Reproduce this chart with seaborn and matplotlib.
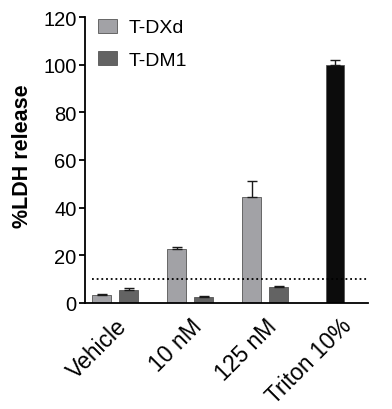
import numpy as np
import pandas as pd
import matplotlib
matplotlib.use('Agg')
import matplotlib.pyplot as plt
import seaborn as sns

# Data (mean and upper SEM)
groups = ['Vehicle', '10 nM', '125 nM', 'Triton 10%']
tdxd_values = [3.1, 22.7, 44.4]
tdxd_err = [0.4, 0.7, 6.6]
tdm1_values = [5.2, 2.4, 6.6]
tdm1_err = [1.0, 0.3, 0.4]
triton_value = [99.7]
triton_err = [2.1]
threshold = 10

sns.set_theme(style='ticks')
plt.rcParams['font.family'] = ['Liberation Sans', 'DejaVu Sans']
plt.rcParams['text.color'] = 'black'
plt.rcParams['axes.labelcolor'] = 'black'
plt.rcParams['xtick.color'] = 'black'
plt.rcParams['ytick.color'] = 'black'

# Build a long table with numeric bar positions
offset = 0.18
rows = []
for i in range(3):
    rows.append(('T-DXd', i - offset, tdxd_values[i], tdxd_err[i]))
    rows.append(('T-DM1', i + offset, tdm1_values[i], tdm1_err[i]))
rows.append(('Triton', 3 - 0.07, triton_value[0], triton_err[0]))
df = pd.DataFrame(rows, columns=['series', 'pos', 'value', 'err'])

palette = {'T-DXd': '#a2a2a6', 'T-DM1': '#636363', 'Triton': '#0c0c0c'}

fig = plt.figure(figsize=(3.92, 4.10), dpi=100)
ax = fig.add_axes([0.217, 0.259, 0.722, 0.697])

sns.barplot(data=df, x='pos', y='value', hue='series', palette=palette,
            native_scale=True, dodge=False, width=0.686, errorbar=None,
            edgecolor='#555555', linewidth=0.6, saturation=1, ax=ax)

ax.errorbar(df['pos'], df['value'], yerr=[np.zeros(len(df)), df['err']],
            fmt='none', ecolor='#1a1a1a', elinewidth=1.0, capsize=3.5,
            capthick=1.0, zorder=5)

ax.hlines(threshold, -0.31, 3.36, colors='black', linestyles=(0, (1, 1.6)),
          linewidth=1.3, zorder=1)

ax.set_xlim(-0.4, 3.37)
ax.set_ylim(0, 120)
ax.set_yticks(range(0, 121, 20))
ax.set_xticks(range(len(groups)))
ax.set_xticklabels(groups, rotation=45, ha='right', rotation_mode='anchor')
ax.tick_params(axis='x', length=0, labelsize=16.5, pad=8)
ax.tick_params(axis='y', length=4, width=1.3, labelsize=14.5, pad=2)
ax.set_xlabel('')
ax.set_ylabel('%LDH release', fontsize=15.5, fontweight='bold')
ax.yaxis.set_label_coords(-0.183, 0.517)

for side in ['top', 'right']:
    ax.spines[side].set_visible(False)
for side in ['left', 'bottom']:
    ax.spines[side].set_linewidth(1.3)
    ax.spines[side].set_color('black')

handles, labels = ax.get_legend_handles_labels()
ax.legend(handles[:2], labels[:2], loc='upper left', bbox_to_anchor=(0.025, 1.015),
          borderaxespad=0, borderpad=0.3, frameon=False, fontsize=14,
          handlelength=1.0, handleheight=0.75, handletextpad=0.6,
          labelspacing=0.75)

fig.savefig('out.png', dpi=100)
